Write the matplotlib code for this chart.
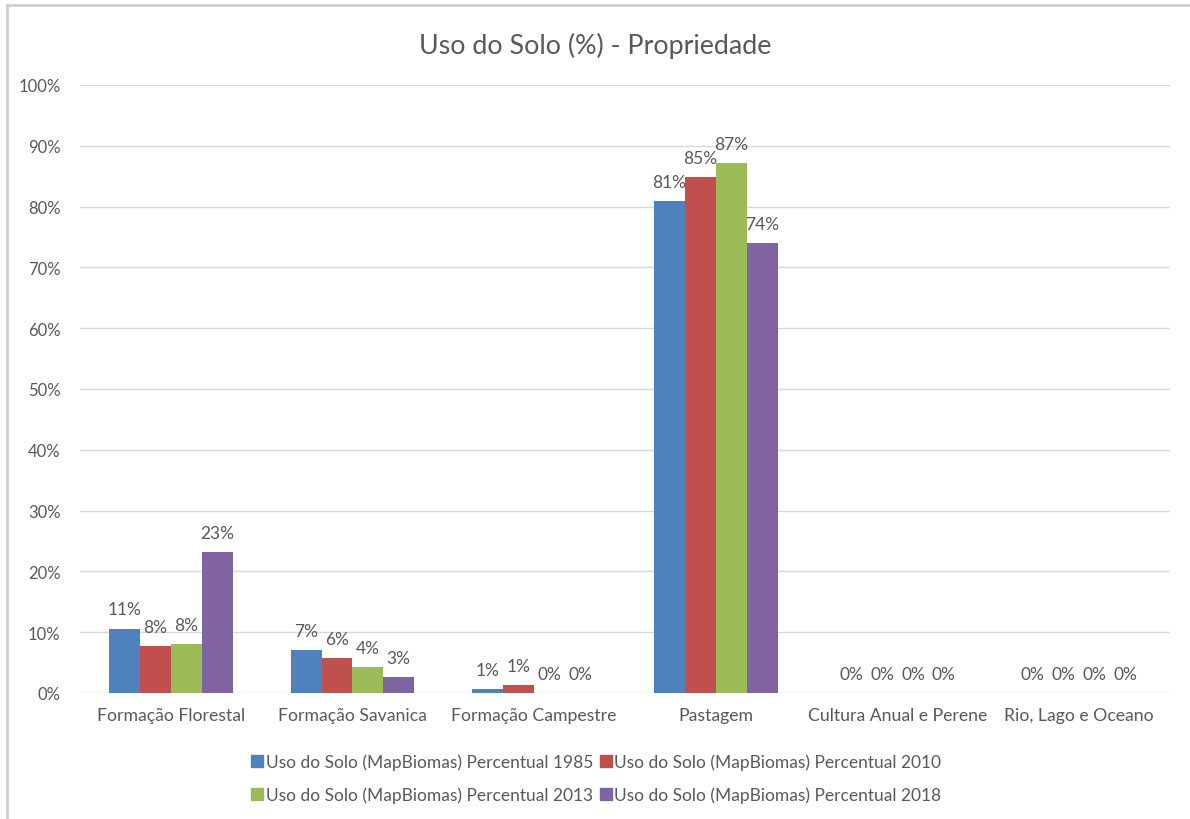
import matplotlib.pyplot as plt
import numpy as np
from matplotlib.lines import Line2D

plt.rcParams['font.family'] = ['Lato', 'DejaVu Sans']

categorias = ['Formação Florestal', 'Formação Savanica', 'Formação Campestre',
              'Pastagem', 'Cultura Anual e Perene', 'Rio, Lago e Oceano']
series = ['Uso do Solo (MapBiomas) Percentual 1985',
          'Uso do Solo (MapBiomas) Percentual 2010',
          'Uso do Solo (MapBiomas) Percentual 2013',
          'Uso do Solo (MapBiomas) Percentual 2018']
v1985 = [0.106, 0.071, 0.007, 0.809, 0.0, 0.0]
v2010 = [0.077, 0.058, 0.013, 0.849, 0.0, 0.0]
v2013 = [0.081, 0.043, 0.0, 0.872, 0.0, 0.0]
v2018 = [0.232, 0.026, 0.0, 0.740, 0.0, 0.0]
cores = ['#4F81BD', '#C0504D', '#9BBB59', '#8064A2']

cinza = '#595959'

fig = plt.figure(figsize=(11.9, 8.2), dpi=100)
ax = fig.add_axes([0.0672, 0.1537, 0.9160, 0.7415])

x = np.arange(len(categorias))
w = 0.17
for i, (vals, nome, cor) in enumerate(zip([v1985, v2010, v2013, v2018], series, cores)):
    pos = x + (i - 1.5) * w
    ax.bar(pos, vals, width=w, color=cor, label=nome, zorder=3)
    for p, v in zip(pos, vals):
        ax.annotate(f'{v:.0%}', (p, v), xytext=(0, 8), textcoords='offset points',
                    ha='center', va='bottom', fontsize=12.5, color=cinza)

ax.set_xlim(-0.5, len(categorias) - 0.5)
ax.set_ylim(0, 1)
ax.set_yticks(np.arange(0, 1.01, 0.1))
ax.set_yticklabels([f'{int(round(t * 100))}%' for t in np.arange(0, 1.01, 0.1)])
ax.set_xticks(x)
ax.set_xticklabels(categorias)
ax.tick_params(length=0, labelsize=12.7, colors=cinza, pad=10)
ax.tick_params(axis='y', labelsize=12, pad=14)
ax.yaxis.grid(True, color='#D9D9D9', linewidth=1, zorder=0)
for s in ax.spines.values():
    s.set_visible(False)

fig.suptitle('Uso do Solo (%) - Propriedade', y=0.96, fontsize=19.3, color=cinza)

# legenda em ordem por linha (como no Excel)
handles = [Line2D([], [], marker='s', linestyle='', color=c, markersize=9) for c in cores]
ordem = [0, 2, 1, 3]
fig.legend([handles[k] for k in ordem], [series[k] for k in ordem], loc='center',
           bbox_to_anchor=(0.5, 0.05), ncol=2, frameon=False, fontsize=12.5,
           labelcolor=cinza, handletextpad=0.0, columnspacing=0.2,
           labelspacing=0.95, handlelength=1.0)

# moldura do gráfico
fig.add_artist(Line2D([0.006, 1.0], [0.993, 0.993], color='#D0D0D0', linewidth=2))
fig.add_artist(Line2D([0.006, 0.006], [0.0, 0.993], color='#D0D0D0', linewidth=2))

fig.savefig('out.png', dpi=100)
